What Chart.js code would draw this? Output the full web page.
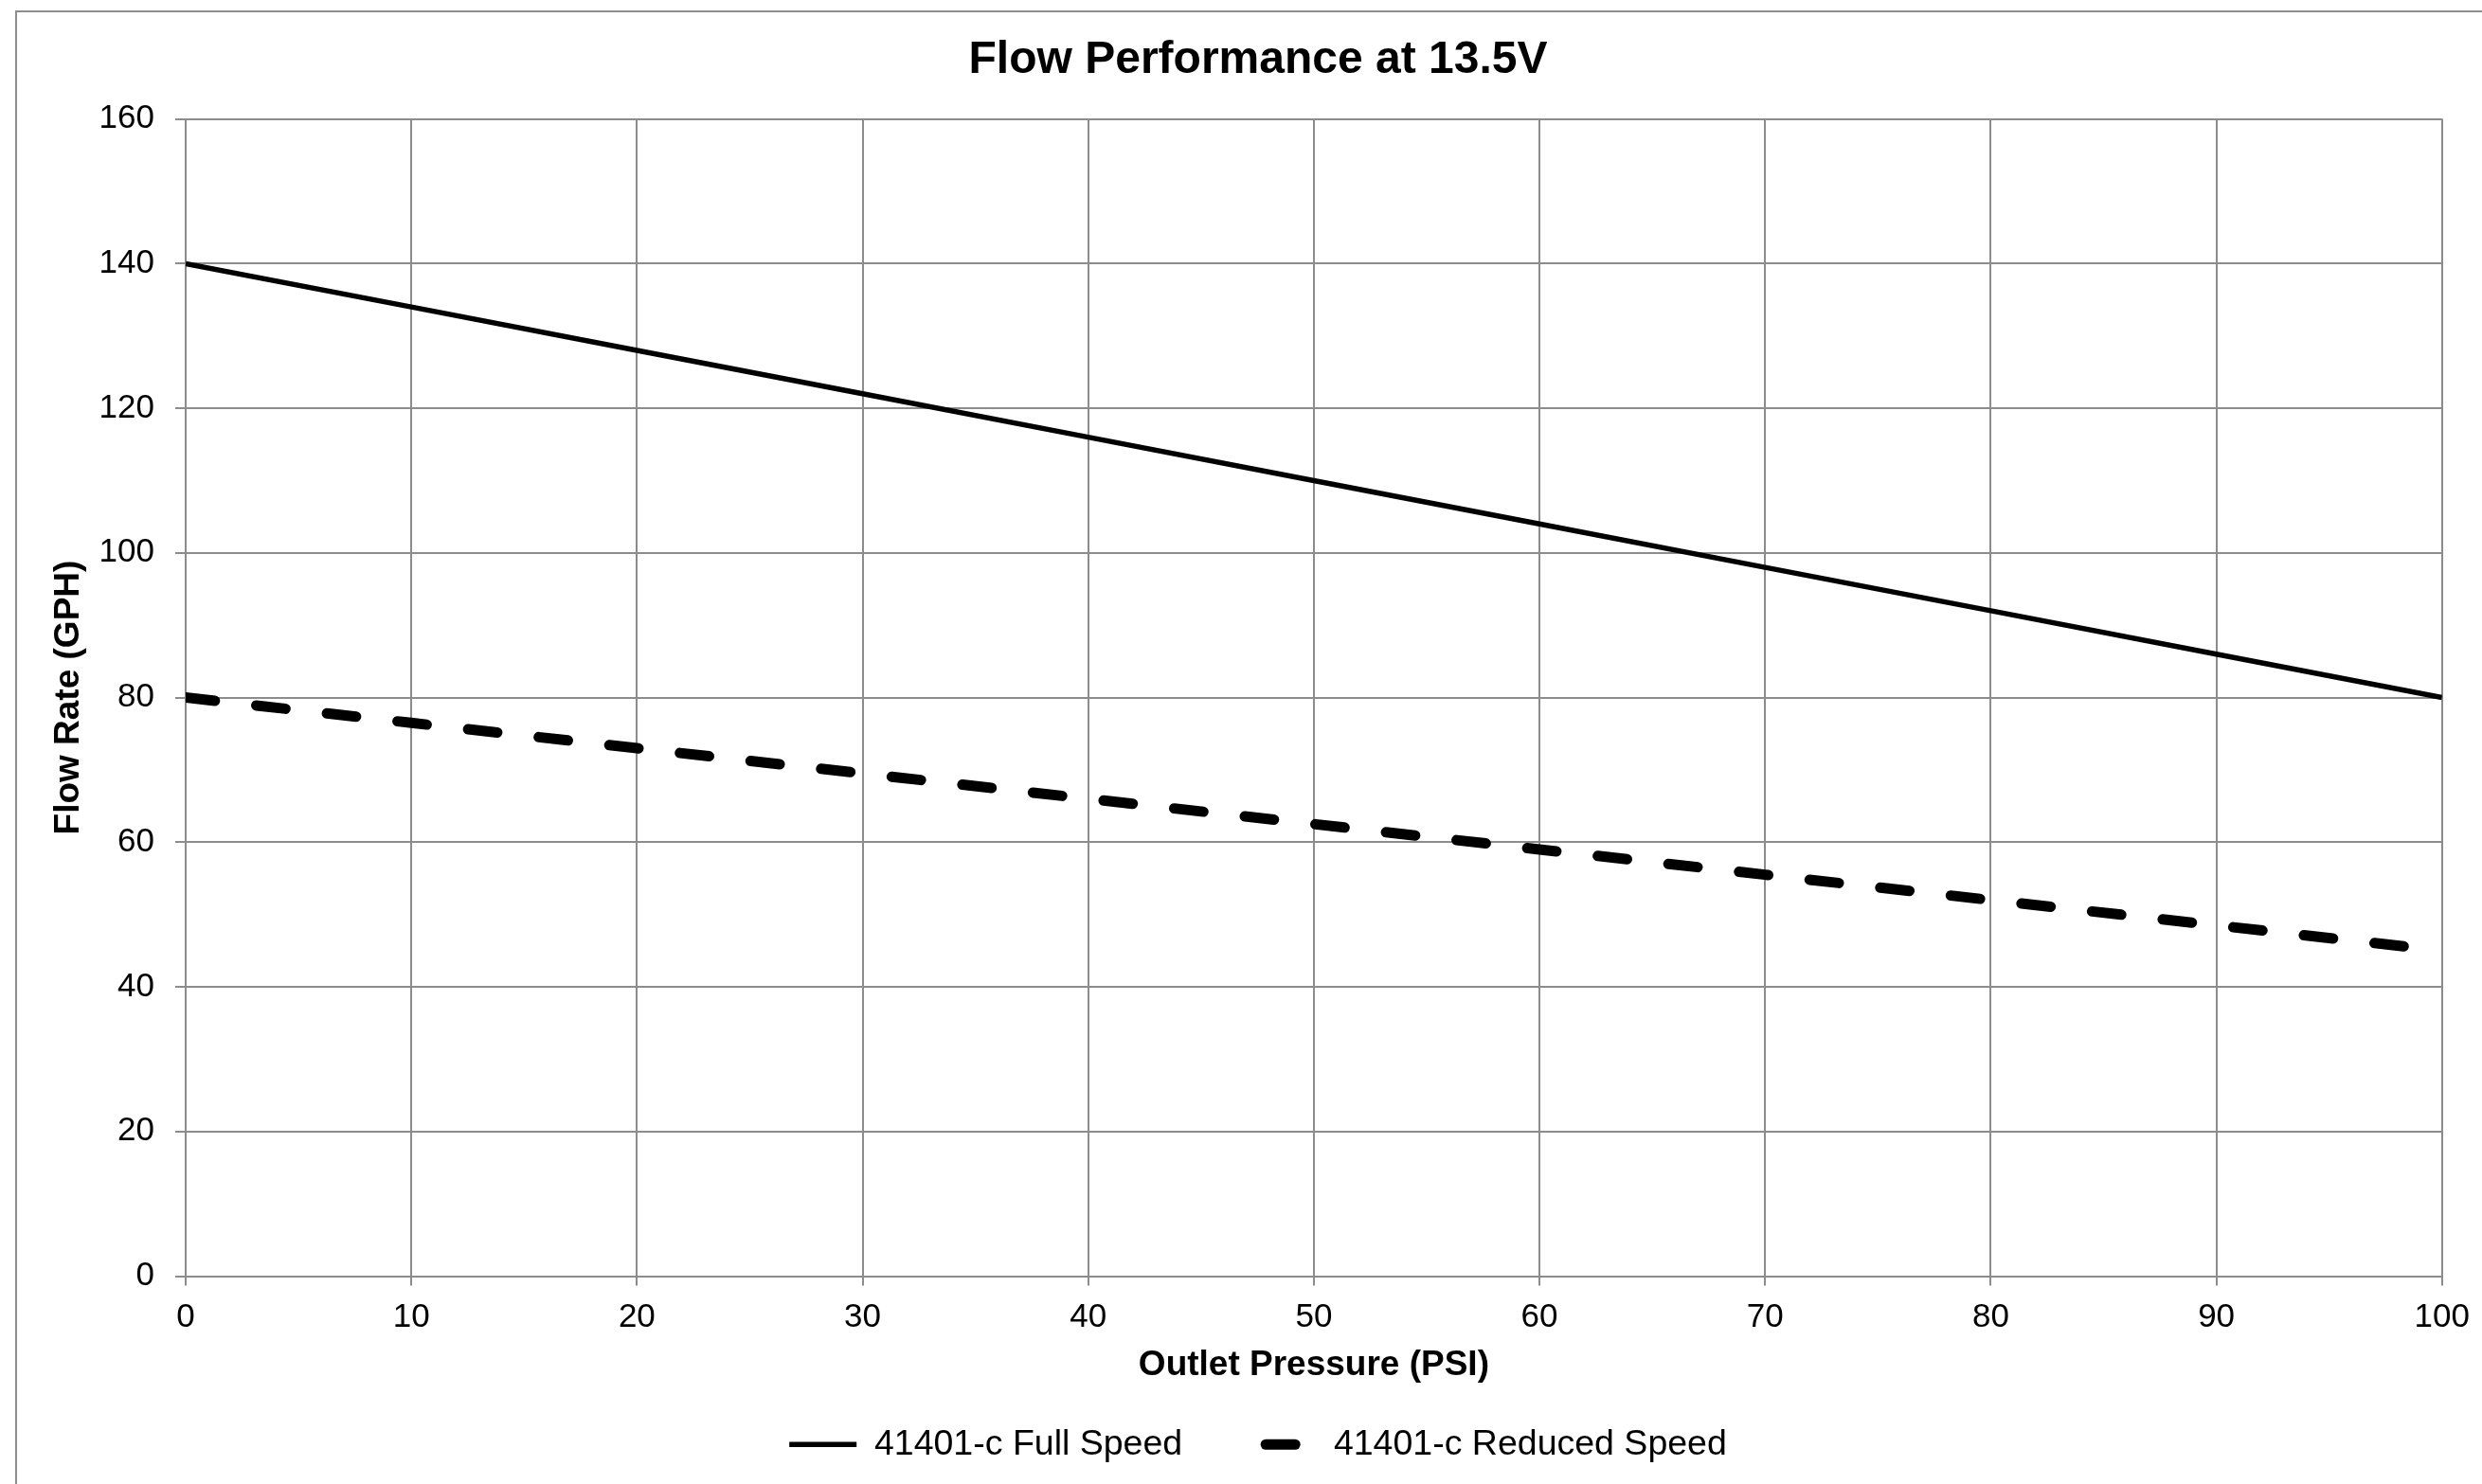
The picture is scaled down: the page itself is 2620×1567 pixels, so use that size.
<!DOCTYPE html>
<html>
<head>
<meta charset="utf-8">
<title>Flow Performance at 13.5V</title>
<script src="https://cdn.jsdelivr.net/npm/chart.js@4/dist/chart.umd.min.js"></script>
<style>
  html, body { margin: 0; padding: 0; background: #fff; overflow: hidden; }
  #frame { position: absolute; left: 16px; top: 11px; width: 3000px; height: 3000px;
           border: 2px solid #8e8e8e; box-sizing: border-box; z-index: 0; }
  #chart { position: absolute; left: 0; top: 0; z-index: 1; }
</style>
</head>
<body>
<div id="frame"></div>
<canvas id="chart" width="2620" height="1567"></canvas>
<script>
// datos
const pressure = [0, 10, 20, 30, 40, 50, 60, 70, 80, 90, 100];
const fullSpeed = [140, 134, 128, 122, 116, 110, 104, 98, 92, 86, 80];
const reducedSpeed = [80, 76.5, 73, 69.5, 66, 62.5, 59, 55.5, 52, 48.5, 45];
const xTicks = [0, 10, 20, 30, 40, 50, 60, 70, 80, 90, 100];
const yTicks = [0, 20, 40, 60, 80, 100, 120, 140, 160];

const gridColor = '#8c8c8c';
Chart.defaults.font.family = "'Liberation Sans', Arial, sans-serif";
Chart.defaults.color = '#000';

const toPoints = (xs, ys) => xs.map((x, i) => ({ x: x, y: ys[i] }));

const ctx = document.getElementById('chart').getContext('2d');
const chart = new Chart(ctx, {
    type: 'line',
    data: {
        datasets: [{
            label: '41401-c Full Speed',
            data: toPoints(pressure, fullSpeed),
            borderColor: '#000',
            backgroundColor: '#000',
            borderWidth: 5.5,
            pointRadius: 0,
            tension: 0,
            clip: 0
        }, {
            label: '41401-c Reduced Speed',
            data: toPoints(pressure, reducedSpeed),
            borderColor: '#000',
            backgroundColor: '#000',
            borderWidth: 11,
            borderDash: [31, 44],
            borderCapStyle: 'round',
            pointRadius: 0,
            tension: 0,
            clip: 0
        }]
    },
    options: {
        responsive: false,
        devicePixelRatio: 1,
        animation: false,
        layout: { padding: { left: 75, right: 39, top: 0, bottom: 13 } },
        plugins: {
            title: {
                display: true,
                text: 'Flow Performance at 13.5V',
                color: '#000',
                font: { size: 48, weight: 'bold' },
                padding: { top: 35, bottom: 33 }
            },
            legend: {
                position: 'bottom',
                labels: {
                    color: '#000',
                    font: { size: 37.5 },
                    usePointStyle: true,
                    pointStyle: 'line',
                    pointStyleWidth: 71,
                    padding: 70,
                    generateLabels: function (c) {
                        const items = Chart.defaults.plugins.legend.labels.generateLabels(c);
                        items.forEach(it => {
                            const ds = c.data.datasets[it.datasetIndex];
                            it.lineWidth = ds.borderWidth;
                            it.lineDash = ds.borderDash || [];
                            it.lineCap = ds.borderCapStyle || 'butt';
                            if (it.lineDash.length) it.lineDashOffset = -18;
                        });
                        return items;
                    }
                }
            },
            tooltip: { enabled: false }
        },
        scales: {
            x: {
                type: 'linear',
                min: 0,
                max: 100,
                afterBuildTicks: s => { s.ticks = xTicks.map(v => ({ value: v })); },
                afterFit: s => { s.height = 89; },
                ticks: { font: { size: 35 }, padding: 13, maxRotation: 0 },
                grid: { color: gridColor, lineWidth: 2, tickLength: 10 },
                border: { color: gridColor, width: 2 },
                title: {
                    display: true,
                    text: 'Outlet Pressure (PSI)',
                    font: { size: 37, weight: 'bold' },
                    padding: { top: 8, bottom: -27 }
                }
            },
            y: {
                min: 0,
                max: 160,
                afterBuildTicks: s => { s.ticks = yTicks.map(v => ({ value: v })); },
                afterFit: s => { s.width = 121; },
                ticks: { font: { size: 35 }, padding: 22 },
                grid: { color: gridColor, lineWidth: 2, tickLength: 11 },
                border: { color: gridColor, width: 2 },
                title: {
                    display: true,
                    text: 'Flow Rate (GPH)',
                    font: { size: 37, weight: 'bold' },
                    padding: { top: -24, bottom: 0 }
                }
            }
        }
    }
});
</script>
</body>
</html>
